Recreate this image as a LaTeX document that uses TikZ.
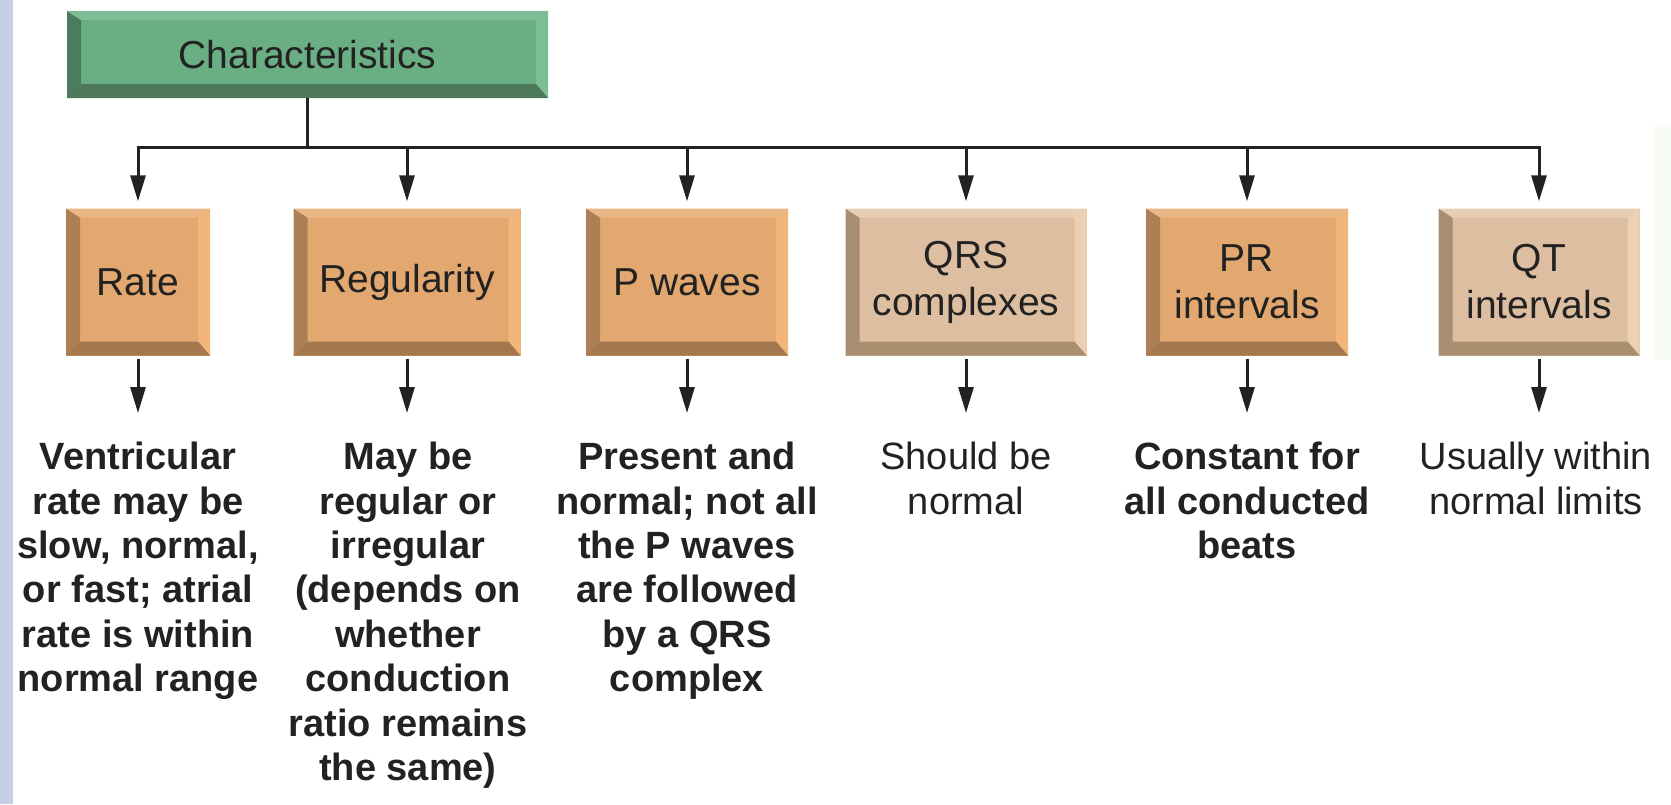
\documentclass[tikz,border=0pt]{standalone}
\usepackage{fontspec}
\setmainfont{Liberation Sans}
\usetikzlibrary{arrows.meta}
\definecolor{stripblue}{RGB}{197,208,228}
\definecolor{ink}{RGB}{34,34,34}
\definecolor{orface}{RGB}{226,168,112}
\definecolor{orleft}{RGB}{172,128,84}
\definecolor{ortop}{RGB}{234,184,134}
\definecolor{orright}{RGB}{242,182,122}
\definecolor{orbot}{RGB}{164,120,78}
\definecolor{bgface}{RGB}{222,190,160}
\definecolor{bgleft}{RGB}{166,142,116}
\definecolor{bgtop}{RGB}{232,206,182}
\definecolor{bgright}{RGB}{236,208,180}
\definecolor{bgbot}{RGB}{170,142,112}
\definecolor{grface}{RGB}{106,174,132}
\definecolor{grleft}{RGB}{74,124,94}
\definecolor{grtop}{RGB}{126,190,150}
\definecolor{grright}{RGB}{122,190,146}
\definecolor{grbot}{RGB}{78,120,92}
\definecolor{faintgreen}{RGB}{246,251,244}
\tikzset{
  bevbox/.style n args={5}{draw=none, fill=#1, inner sep=0pt, align=center,
    text=ink, font=\fontsize{39}{47}\selectfont,
    path picture={
      \fill[#2] (path picture bounding box.south west) -- (path picture bounding box.north west)
        -- ([shift={(14pt,-9pt)}]path picture bounding box.north west)
        -- ([shift={(14pt,14pt)}]path picture bounding box.south west) -- cycle;
      \fill[#3] (path picture bounding box.north west) -- (path picture bounding box.north east)
        -- ([shift={(-12pt,-9pt)}]path picture bounding box.north east)
        -- ([shift={(14pt,-9pt)}]path picture bounding box.north west) -- cycle;
      \fill[#4] (path picture bounding box.north east) -- (path picture bounding box.south east)
        -- ([shift={(-12pt,14pt)}]path picture bounding box.south east)
        -- ([shift={(-12pt,-9pt)}]path picture bounding box.north east) -- cycle;
      \fill[#5] (path picture bounding box.south west) -- (path picture bounding box.south east)
        -- ([shift={(-12pt,14pt)}]path picture bounding box.south east)
        -- ([shift={(14pt,14pt)}]path picture bounding box.south west) -- cycle;
    }},
  orbox/.style={bevbox={orface}{orleft}{ortop}{orright}{orbot}, minimum height=147pt},
  bgbox/.style={bevbox={bgface}{bgleft}{bgtop}{bgright}{bgbot}, minimum height=147pt},
  grbox/.style={bevbox={grface}{grleft}{grtop}{grright}{grbot}},
  desc/.style={anchor=north, align=center, inner sep=0pt, text=ink,
    font=\fontsize{38}{44.4}\selectfont},
  descb/.style={desc, font=\fontsize{38}{44.4}\selectfont\bfseries},
  wire/.style={draw=ink, line width=3pt},
  arr/.style={wire, -{Triangle[length=26pt,width=15pt]}}
}
\begin{document}
\begin{tikzpicture}[x=1pt,y=-1pt]
\useasboundingbox (0,0) rectangle (1671,804);
\fill[white] (0,0) rectangle (1671,804);
\fill[stripblue] (0,0) rectangle (13,804);
\fill[faintgreen] (1655,125) rectangle (1671,360);

\node[grbox, minimum width=481pt, minimum height=87pt] (char) at (307.5,54.5) {Characteristics};

\node[orbox, minimum width=144pt] (rate) at (138,282) {Rate};
\node[orbox, minimum width=227pt] (reg) at (407,282) {Regularity};
\node[orbox, minimum width=202pt] (pw) at (687,282) {P waves};
\node[bgbox, minimum width=241pt] (qrs) at (966,282) {QRS\\complexes};
\node[orbox, minimum width=202pt] (pr) at (1247,282) {PR\\intervals};
\node[bgbox, minimum width=201pt] (qt) at (1539,282) {QT\\intervals};

\coordinate (bus) at (307,147);
\draw[wire] (char.south) -- (char.south |- bus);
\draw[wire] ([xshift=-1.5pt]rate.north |- bus) -- ([xshift=1.5pt]qt.north |- bus);
\foreach \n in {rate,reg,pw,qrs,pr,qt}
  \draw[arr, shorten >=7pt] (\n.north |- bus) -- (\n.north);

\node[descb] (ratet) at (138,442) {Ventricular\\rate may be\\slow, normal,\\or fast; atrial\\rate is within\\normal range};
\node[descb] (regt) at (408,442) {May be\\regular or\\irregular\\(depends on\\whether\\conduction\\ratio remains\\the same)};
\node[descb] (pwt) at (687,442) {Present and\\normal; not all\\the P waves\\are followed\\by a QRS\\complex};
\node[desc] (qrst) at (966,442) {Should be\\normal};
\node[descb] (prt) at (1247,442) {Constant for\\all conducted\\beats};
\node[desc] (qtt) at (1536,442) {Usually within\\normal limits};

\draw[arr, shorten <=3pt, shorten >=29pt] (rate.south) -- (rate.south |- ratet.north);
\draw[arr, shorten <=3pt, shorten >=29pt] (reg.south) -- (reg.south |- regt.north);
\draw[arr, shorten <=3pt, shorten >=29pt] (pw.south) -- (pw.south |- pwt.north);
\draw[arr, shorten <=3pt, shorten >=29pt] (qrs.south) -- (qrs.south |- qrst.north);
\draw[arr, shorten <=3pt, shorten >=29pt] (pr.south) -- (pr.south |- prt.north);
\draw[arr, shorten <=3pt, shorten >=29pt] (qt.south) -- (qt.south |- qtt.north);
\end{tikzpicture}
\end{document}
